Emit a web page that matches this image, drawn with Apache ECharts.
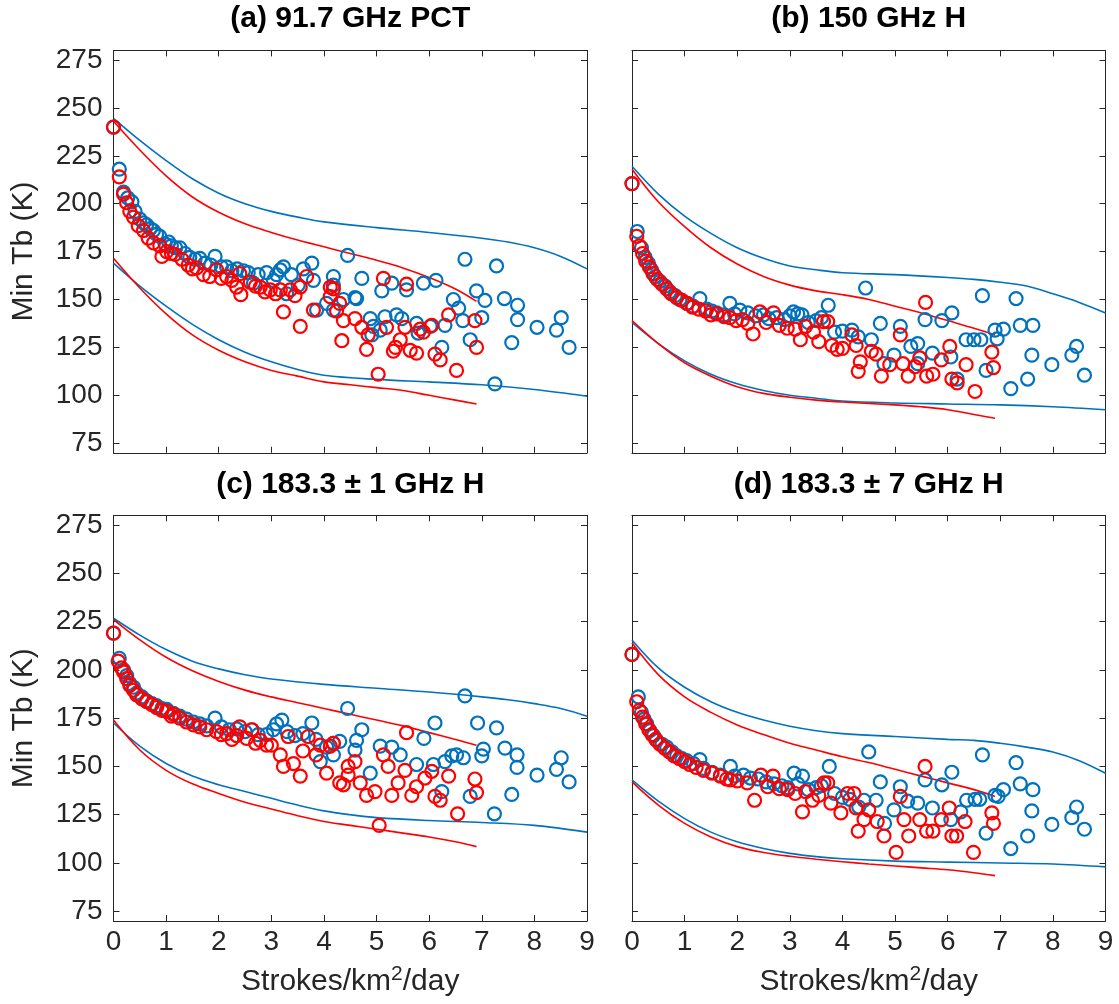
<!DOCTYPE html>
<html><head><meta charset="utf-8">
<script src="https://cdn.jsdelivr.net/npm/echarts@6/dist/echarts.min.js"></script>
<style>html,body{margin:0;padding:0;background:#fff}#c{width:1119px;height:1004px}</style>
</head><body><div id="c"></div>
<script>
// ---------- Titles / ticks ----------
const panelTitles = ['(a) 91.7 GHz PCT', '(b) 150 GHz H', '(c) 183.3 \u00b1 1 GHz H', '(d) 183.3 \u00b1 7 GHz H'];
const yTicks = [75, 100, 125, 150, 175, 200, 225, 250, 275];
const xTicks = [0, 1, 2, 3, 4, 5, 6, 7, 8, 9];
const yLabel = 'Min Tb (K)';

// ---------- Panel (a) ----------
const aBlue = [[0.0,240],[0.11,218],[0.19,206],[0.27,203],[0.35,201],[0.41,196],[0.5,192],[0.57,190],[0.63,189],[0.7,187],[0.76,186],[0.82,184],[0.88,183],[0.98,179],[1.05,180],[1.1,178],[1.18,177],[1.26,177],[1.36,174],[1.45,172],[1.55,171],[1.64,171.5],[1.74,169],[1.85,168],[1.93,172.5],[2.05,167],[2.15,167],[2.25,165],[2.35,166],[2.47,165],[2.56,164],[2.66,158.5],[2.75,163],[2.91,164],[3.04,160],[3.1,163],[3.17,165.5],[3.23,167],[3.29,153],[3.38,163],[3.51,157.5],[3.61,166],[3.77,169],[3.8,160],[3.86,144.5],[4.05,148],[4.18,162],[4.18,157.5],[4.18,144.5],[4.37,150],[4.45,173],[4.59,151],[4.62,150.5],[4.72,161],[4.88,140],[4.91,131.5],[4.94,136],[5.07,134],[5.1,154.5],[5.16,141],[5.29,158.5],[5.38,142],[5.48,140],[5.57,155],[5.76,137.5],[5.79,132.5],[5.89,158.5],[6.02,136],[6.13,160],[6.24,125],[6.3,136.5],[6.46,150],[6.56,145.5],[6.64,139],[6.68,171],[6.78,129],[6.9,154.5],[7.0,140.5],[7.06,149.5],[7.25,106],[7.28,167.5],[7.43,150.5],[7.57,127.5],[7.68,147],[7.68,139.5],[8.05,135.5],[8.42,134],[8.51,140.5],[8.66,125]];
const aRed = [[0.0,240],[0.11,214],[0.19,205],[0.25,200.5],[0.31,196],[0.38,193],[0.47,188.5],[0.57,186],[0.66,182],[0.76,179.5],[0.88,178],[0.92,172.5],[1.01,175],[1.1,174],[1.17,173.5],[1.3,171],[1.42,168],[1.5,166],[1.58,166.5],[1.71,163],[1.83,162],[1.96,165.5],[2.05,161],[2.15,162],[2.25,160],[2.34,156.5],[2.4,163.5],[2.42,152.5],[2.6,159],[2.7,157],[2.79,156.5],[2.88,154],[2.98,155],[3.08,153],[3.17,155],[3.23,143.5],[3.36,155],[3.45,152],[3.55,156.5],[3.55,136],[3.67,162],[3.8,144.5],[4.12,156.5],[4.12,151.5],[4.18,155.5],[4.24,144],[4.3,148],[4.34,128.5],[4.37,139],[4.59,140],[4.72,135.5],[4.81,124],[4.84,131.5],[5.03,111],[5.13,161],[5.19,135.5],[5.32,123],[5.36,125],[5.45,129],[5.54,135.5],[5.57,158],[5.64,123.5],[5.76,122],[5.83,134.5],[5.89,133],[6.05,136.5],[6.11,121.5],[6.21,118.5],[6.37,142],[6.52,113],[6.87,139],[6.9,125]];
const aBlueUpper = [[0,244.5],[0.5,233],[1,222.5],[1.5,213],[2,205.5],[2.5,200],[3,196],[3.5,193],[4,190.5],[5,187.5],[6,185],[7,182],[7.5,180],[8,177],[8.5,172.5],[9,166]];
const aBlueLower = [[0,169],[0.5,157],[1,146.5],[1.5,137],[2,129],[2.5,122.5],[3,117.5],[3.5,113.5],[4,110.5],[5,108.3],[6,107],[7,105.5],[8,103],[9,99.5]];
const aRedUpper = [[0,243],[0.5,228],[1,214.5],[1.5,203.5],[2,195.5],[2.5,189.5],[3,185],[3.5,181],[4,177.5],[4.5,174],[5,170.5],[5.5,166.5],[6,161.5],[6.5,155.5],[6.9,149]];
const aRedLower = [[0,171.5],[0.5,156],[1,142.5],[1.5,131.5],[2,123.5],[2.5,117.5],[3,113],[3.5,110],[4,107],[4.5,105.5],[5,104],[5.5,102.5],[6,100],[6.5,97.5],[6.9,95.5]];

// ---------- Panel (b) ----------
const bBlue = [[0.0,210.5],[0.1,185.5],[0.18,177],[0.25,172],[0.31,169],[0.37,165.5],[0.44,162],[0.53,159.5],[0.63,157],[0.72,154],[0.82,152],[0.91,150],[1.04,148],[1.16,146.5],[1.29,150.5],[1.42,145],[1.52,144],[1.61,143],[1.75,142],[1.86,148],[1.95,142.5],[2.05,144.5],[2.2,143],[2.35,141.5],[2.5,142],[2.6,140],[2.75,140.5],[2.9,139.5],[3.0,141.5],[3.07,143.5],[3.15,142.5],[3.23,142],[3.35,138],[3.5,139],[3.6,140.5],[3.73,147],[3.85,133],[4.0,133.5],[4.18,134],[4.3,130.5],[4.44,156],[4.55,129],[4.72,137.5],[4.79,116.5],[4.98,121],[5.1,136],[5.3,125.5],[5.43,127],[5.43,116.5],[5.57,139.5],[5.71,122],[5.89,139],[6.06,120],[6.08,143],[6.18,108.5],[6.35,129],[6.5,129],[6.63,129],[6.66,152],[6.73,113],[6.9,134],[6.94,129.5],[7.06,134.5],[7.2,103.5],[7.3,150.5],[7.38,136.5],[7.52,108.5],[7.6,121],[7.62,136.5],[7.98,116],[8.36,121],[8.45,125.5],[8.6,110.5]];
const bRed = [[0.0,210.5],[0.09,183],[0.14,178],[0.2,174],[0.26,170],[0.33,167],[0.4,163.5],[0.48,160.5],[0.57,158],[0.66,155.5],[0.75,153],[0.85,151],[0.95,149.5],[1.05,148],[1.15,146],[1.27,145],[1.4,144],[1.5,142],[1.61,142.5],[1.75,141],[1.86,140.5],[1.98,139],[2.1,139.5],[2.2,137.5],[2.3,132],[2.43,143.5],[2.55,138],[2.69,143],[2.8,136.5],[2.95,135],[3.1,134.5],[3.2,129],[3.3,136],[3.45,133],[3.55,128],[3.64,138.5],[3.72,138.5],[3.8,126],[3.9,124],[4.0,124.5],[4.18,131.5],[4.26,126],[4.3,112.5],[4.34,117.5],[4.55,123],[4.64,121.5],[4.74,110],[4.9,116],[5.1,131.5],[5.15,116.5],[5.25,110],[5.38,115],[5.47,119.5],[5.58,148.5],[5.6,110],[5.72,111],[5.88,118.5],[6.04,125.5],[6.08,108.5],[6.18,106.5],[6.35,116],[6.52,102],[6.84,122.5],[6.87,114.5]];
const bBlueUpper = [[0,219.5],[0.5,205],[1,193.5],[1.5,184.5],[2,177],[2.5,171.5],[3,167.5],[3.5,165.5],[4,164],[5,163],[6,161.5],[6.5,160.5],[7,159],[7.5,157],[8,153],[8.5,148.5],[9,143]];
const bBlueLower = [[0,138],[0.5,127],[1,118],[1.5,111],[2,106],[2.5,102.5],[3,100],[3.5,98.5],[4,97],[5,96],[6,95.5],[7,95],[8,94],[9,92.5]];
const bRedUpper = [[0,218],[0.5,201],[1,188],[1.5,177],[2,168.5],[2.5,162],[3,157.5],[3.5,154.5],[4,152.5],[4.5,150],[5,146.5],[5.5,143],[6,139],[6.5,135],[6.9,131.5]];
const bRedLower = [[0,139],[0.5,127],[1,117],[1.5,110],[2,104.5],[2.5,101],[3,99],[3.5,97.5],[4,96.5],[5,95],[5.5,94],[6,92.5],[6.5,90],[6.9,88]];

// ---------- Panel (c) ----------
const cBlue = [[0.0,219],[0.11,206],[0.19,200],[0.25,197],[0.31,193],[0.38,191],[0.44,188],[0.54,186],[0.63,184],[0.73,182.5],[0.82,181.5],[0.92,180],[1.01,179.5],[1.14,177.5],[1.26,176],[1.39,174.5],[1.52,173],[1.64,172],[1.77,171],[1.93,175],[2.05,170.5],[2.2,169],[2.34,169.5],[2.5,168],[2.63,169],[2.75,166.5],[2.91,166.5],[3.04,169],[3.1,172],[3.2,174],[3.3,168],[3.45,166],[3.6,167],[3.77,172.5],[3.85,164],[3.93,152.5],[4.05,160],[4.18,156],[4.18,162],[4.3,163],[4.45,180],[4.59,158.5],[4.62,163.5],[4.72,169],[4.88,146.5],[5.07,160.5],[5.29,160],[5.45,156],[5.76,151],[5.9,164.5],[6.08,151],[6.11,172.5],[6.24,137],[6.3,152.5],[6.43,155.5],[6.52,156],[6.65,154.5],[6.68,186.5],[6.78,134.5],[6.92,172.5],[7.0,155.5],[7.03,159],[7.24,125.5],[7.28,170],[7.44,159.5],[7.57,135.5],[7.67,156],[7.67,149.5],[8.05,145.5],[8.42,148.5],[8.51,154.5],[8.66,142]];
const cRed = [[0.0,219],[0.09,204.5],[0.15,201],[0.19,199],[0.25,195.5],[0.31,192],[0.38,189.5],[0.44,187],[0.54,185],[0.63,183.5],[0.73,182],[0.82,180.5],[0.92,179],[1.01,178.5],[1.1,176],[1.14,177],[1.26,175],[1.39,173],[1.52,171.5],[1.64,170.5],[1.77,169],[1.96,168],[2.05,166.5],[2.15,167],[2.25,164],[2.34,166],[2.4,170.5],[2.53,164.5],[2.63,169],[2.7,162],[2.79,163.5],[2.91,161],[3.0,161],[3.17,156],[3.23,150],[3.32,165.5],[3.42,151.5],[3.55,145],[3.6,158],[3.7,165.5],[3.85,156],[3.93,161],[4.05,146.5],[4.12,160.5],[4.18,162],[4.3,141.5],[4.37,140.5],[4.46,145.5],[4.46,150],[4.59,152.5],[4.69,141.5],[4.81,135],[4.97,137],[5.05,119.5],[5.13,156],[5.22,150],[5.29,135],[5.41,141.5],[5.54,148],[5.57,167.5],[5.67,135],[5.76,139.5],[5.92,144],[6.05,147.5],[6.11,134.5],[6.21,132.5],[6.37,145],[6.54,125.5],[6.87,143.5],[6.9,136.5]];
const cBlueUpper = [[0,226.7],[0.5,218],[1,210.5],[1.5,204.5],[2,200.5],[2.5,197.5],[3,195.3],[4,192.5],[5,190.5],[6,188.5],[7,186],[7.5,184.5],[8,182.5],[8.5,180],[9,176]];
const cBlueLower = [[0,172.5],[0.5,160.5],[1,151.5],[1.5,145],[2,140.5],[2.5,137],[3,133.5],[3.5,130],[4,127],[4.5,125],[5,123.5],[6,122],[7,121],[8,119.5],[9,116]];
const cRedUpper = [[0,226],[0.5,215.5],[1,206.5],[1.5,199.5],[2,194],[2.5,189.5],[3,186],[3.5,183],[4,180],[4.5,177],[5,174],[5.5,171],[6,167.5],[6.5,164],[6.9,161]];
const cRedLower = [[0,174],[0.5,158.5],[1,148],[1.5,141],[2,136],[2.5,131.5],[3,128],[3.5,124.5],[4,121.5],[4.5,119.5],[5,117.5],[5.5,115.5],[6,113.5],[6.5,111],[6.9,108.5]];

// ---------- Panel (d) ----------
const dBlue = [[0.0,208],[0.12,186],[0.18,178],[0.23,174.5],[0.28,172],[0.34,168.5],[0.41,166],[0.47,163.5],[0.57,161.5],[0.66,160],[0.76,157.5],[0.85,155.5],[0.95,154],[1.04,153],[1.17,151.5],[1.29,153.5],[1.36,149],[1.52,147],[1.68,145.5],[1.87,150],[1.95,145],[2.12,145.5],[2.25,144],[2.4,143.5],[2.55,142],[2.7,141],[2.85,140],[2.96,139],[3.08,146.5],[3.15,141],[3.24,145],[3.35,138],[3.5,139],[3.6,140],[3.75,150],[3.85,136],[4.0,134],[4.14,133],[4.31,129],[4.41,132.5],[4.5,157.5],[4.64,132.5],[4.72,142],[4.8,120.5],[4.98,127.5],[5.1,139.5],[5.24,132],[5.43,131],[5.57,143],[5.71,128.5],[5.89,140.5],[6.06,122.5],[6.08,147],[6.25,126.5],[6.36,132.5],[6.52,133],[6.61,133],[6.66,156],[6.73,115.5],[6.9,135],[6.96,134.5],[7.06,138],[7.2,107.5],[7.3,152],[7.38,141],[7.52,114],[7.6,127],[7.62,138],[7.98,120],[8.36,123.5],[8.45,129],[8.6,117.5]];
const dRed = [[0.0,208],[0.09,183.5],[0.14,179],[0.2,175.5],[0.26,172],[0.32,169],[0.38,166.5],[0.45,164],[0.53,161.5],[0.62,159.5],[0.71,157.5],[0.8,155.5],[0.9,154],[1.0,152.5],[1.1,151],[1.22,149.5],[1.36,148],[1.52,146.5],[1.68,145],[1.8,143.5],[1.87,143],[2.0,142.5],[2.19,141.5],[2.33,132.5],[2.45,145.5],[2.58,139.5],[2.68,145],[2.8,138.5],[2.96,138],[3.1,136],[3.24,126.5],[3.3,137],[3.43,132.5],[3.55,135],[3.65,141.5],[3.72,141.5],[3.78,131],[3.97,126],[4.1,136],[4.22,136],[4.26,128.5],[4.3,116.5],[4.41,122.5],[4.5,127.5],[4.66,121.5],[4.79,114],[5.02,105.5],[5.1,134.5],[5.17,122.5],[5.26,114],[5.47,122.5],[5.57,150],[5.6,116.5],[5.72,116.5],[5.88,122.5],[6.03,128.5],[6.08,114],[6.17,114],[6.33,121.5],[6.49,105.5],[6.84,126],[6.87,120.5]];
const dBlueUpper = [[0,215.5],[0.5,201],[1,191],[1.5,183.5],[2,178],[2.5,174],[3,170.8],[3.5,168.5],[4,167],[5,165.5],[6,164],[6.5,163.5],[7,162],[7.5,160],[8,157.5],[8.5,153],[9,146.5]];
const dBlueLower = [[0,143],[0.5,132],[1,123],[1.5,116],[2,111],[2.5,107.5],[3,105],[3.5,103.3],[4,102.2],[5,101],[6,100.5],[7,100],[8,99.5],[9,98]];
const dRedUpper = [[0,214],[0.5,197.5],[1,186],[1.5,178],[2,171.5],[2.5,166.5],[3,162],[3.5,158.5],[4,155],[4.5,152],[5,148.5],[5.5,145],[6,141.5],[6.5,138],[6.9,134.5]];
const dRedLower = [[0,142],[0.5,130],[1,120.5],[1.5,113.5],[2,108.5],[2.5,105.5],[3,103.5],[3.5,102],[4,100.7],[4.5,99.5],[5,98.5],[5.5,97.5],[6,96.5],[6.5,95],[6.9,93.5]];

// ---------- Build ----------
const panels = [
  {blue:aBlue, red:aRed, bu:aBlueUpper, bl:aBlueLower, ru:aRedUpper, rl:aRedLower},
  {blue:bBlue, red:bRed, bu:bBlueUpper, bl:bBlueLower, ru:bRedUpper, rl:bRedLower},
  {blue:cBlue, red:cRed, bu:cBlueUpper, bl:cBlueLower, ru:cRedUpper, rl:cRedLower},
  {blue:dBlue, red:dRed, bu:dBlueUpper, bl:dBlueLower, ru:dRedUpper, rl:dRedLower}
];
const FONT = '"Liberation Sans",Arial,sans-serif';
const AX = '#262626';
const BLUE = '#0072BD', RED = '#FF0000';
const TICK_FS = 28, NAME_FS = 30, TITLE_FS = 30;
const grids = [
  {left:113.5, top:50.4, width:473.5, height:402.4},
  {left:632, top:50.4, width:473.5, height:402.4},
  {left:113.5, top:515.3, width:473.5, height:405.7},
  {left:632, top:515.3, width:473.5, height:405.7}
];
const xAxes = [], yAxes = [], series = [], graphics = [];
grids.forEach((g, i) => {
  const bottomRow = i >= 2, leftCol = i % 2 === 0;
  const common = {gridIndex:i, type:'value', min:0, max:9, interval:1, splitLine:{show:false},
    axisLine:{show:true, onZero:false, lineStyle:{color:AX, width:1}},
    axisTick:{show:true, inside:true, length:6, lineStyle:{color:AX}}};
  xAxes.push(Object.assign({}, common, {position:'bottom',
    axisLabel:{show:bottomRow, fontFamily:FONT, fontSize:TICK_FS, color:AX, margin:7,
      customValues: xTicks, formatter: v => String(v)}}));
  xAxes.push(Object.assign({}, common, {position:'top', axisLabel:{show:false}}));
  const ycommon = {gridIndex:i, type:'value', min:70, max:280, splitLine:{show:false},
    axisLine:{show:true, onZero:false, lineStyle:{color:AX, width:1}},
    axisTick:{show:true, inside:true, length:6, lineStyle:{color:AX}, customValues:yTicks}};
  yAxes.push(Object.assign({}, ycommon, {position:'left',
    axisLabel:{show:leftCol, fontFamily:FONT, fontSize:TICK_FS, color:AX, margin:11, customValues:yTicks}}));
  yAxes.push(Object.assign({}, ycommon, {position:'right', axisLabel:{show:false, customValues:yTicks}}));
  const p = panels[i];
  const lineS = (data, color) => ({type:'line', xAxisIndex:2*i, yAxisIndex:2*i, data, smooth:0.35,
    showSymbol:false, symbol:'none', silent:true, lineStyle:{color, width:1.6}, z:2});
  series.push(lineS(p.bu, BLUE), lineS(p.bl, BLUE), lineS(p.ru, RED), lineS(p.rl, RED));
  const scat = (data, color, z) => ({type:'scatter', xAxisIndex:2*i, yAxisIndex:2*i, data, symbol:'circle',
    symbolSize:13, silent:true, z, itemStyle:{color:'rgba(0,0,0,0)', borderColor:color, borderWidth:2.2, opacity:1}});
  series.push(scat(p.blue, BLUE, 3), scat(p.red, RED, 4));
  const cx = g.left + g.width / 2;
  graphics.push({type:'text', x:cx, y:(i < 2 ? 19 : 485), style:{text:panelTitles[i], font:'bold ' + TITLE_FS + 'px ' + FONT,
    fill:'#000', textAlign:'center', textVerticalAlign:'middle'}});
  if (leftCol) {
    graphics.push({type:'text', x:24, y:g.top + g.height / 2, rotation:Math.PI / 2,
      style:{text:yLabel, font:NAME_FS + 'px ' + FONT, fill:AX, textAlign:'center', textVerticalAlign:'middle'}});
  }
  if (bottomRow) {
    graphics.push({type:'text', x:cx, y:982, style:{text:'Strokes/km{s|2}/day', font:NAME_FS + 'px ' + FONT, fill:AX,
      textAlign:'center', textVerticalAlign:'middle',
      rich:{s:{fontSize:21, fontFamily:FONT, fill:AX, verticalAlign:'top', lineHeight:36}}}});
  }
});
const chart = echarts.init(document.getElementById('c'), null, {renderer:'canvas'});
chart.setOption({animation:false, backgroundColor:'#fff', grid:grids, xAxis:xAxes, yAxis:yAxes, series, graphic:graphics});
</script></body></html>
